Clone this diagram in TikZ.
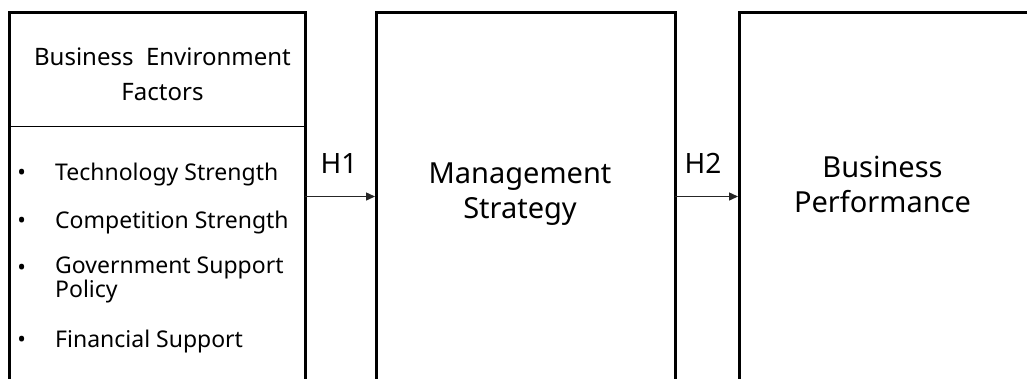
\documentclass[tikz,border=0pt]{standalone}
\usepackage{fontspec}
\setmainfont{Noto Sans}
\usetikzlibrary{arrows.meta}
\begin{document}
\begin{tikzpicture}[x=1pt,y=-1pt,
  frame/.style={draw=black, line width=3pt, inner sep=0pt, outer sep=0pt, anchor=north west, minimum height=420pt},
  divider/.style={draw=black, line width=1.3pt},
  conn/.style={draw=black!85, line width=1.4pt, -{Triangle[length=9pt,width=8pt]}, shorten >=1pt},
  heading/.style={font=\fontsize{24}{35}\selectfont, align=center, inner sep=0pt, anchor=base},
  title/.style={font=\fontsize{29}{35.5}\selectfont, align=center, inner sep=0pt, anchor=base},
  item/.style={font=\fontsize{23}{22}\selectfont, align=left, inner sep=0pt, anchor=base west},
  dot/.style={font=\fontsize{23}{22}\selectfont, inner sep=0pt, anchor=base},
  hyp/.style={font=\fontsize{28}{30}\selectfont, inner sep=0pt, anchor=base}]
\useasboundingbox (0,0) rectangle (1027,378);
\fill[white] (0,0) rectangle (1027,378);
\clip (0,0) rectangle (1027,378);

% the three construct boxes (they run on below the lower edge)
\node[frame, minimum width=296pt] (env) at (9,12) {};
\node[frame, minimum width=299pt] (strat) at (376,12) {};
\node[frame, minimum width=320pt] (perf) at (739,12) {};

% header of the first box (base anchor sits on the last line)
\coordinate (divy) at (0,126.5);
\draw[divider] (env.west |- divy) -- (env.east |- divy);
\node[heading] (envhead) at (162.5,100) {Business~~Environment\\Factors};

% factor list
\node[dot] (d1) at (21.7,180) {•};
\node[item] (t1) at (55,180) {Technology Strength};
\node[dot] (d2) at (21.7,228) {•};
\node[item] (t2) at (55,228) {Competition Strength};
\node[dot] (d3) at (21.7,275) {•};
\node[item] (t3) at (55,297) {Government Support\\Policy};
\node[dot] (d4) at (21.7,347) {•};
\node[item] (t4) at (55,347) {Financial Support};

% the other two constructs
\node[title] (strathead) at (520,218.5) {Management\\Strategy};
\node[title] (perfhead) at (882.5,212.5) {Business\\Performance};

% hypotheses
\coordinate (ay) at (0,196.5);
\draw[conn] (env.east |- ay) -- (strat.west |- ay);
\draw[conn] (strat.east |- ay) -- (perf.west |- ay);
\node[hyp] (h1) at (339,173) {H1};
\node[hyp] (h2) at (703,173) {H2};
\end{tikzpicture}
\end{document}
